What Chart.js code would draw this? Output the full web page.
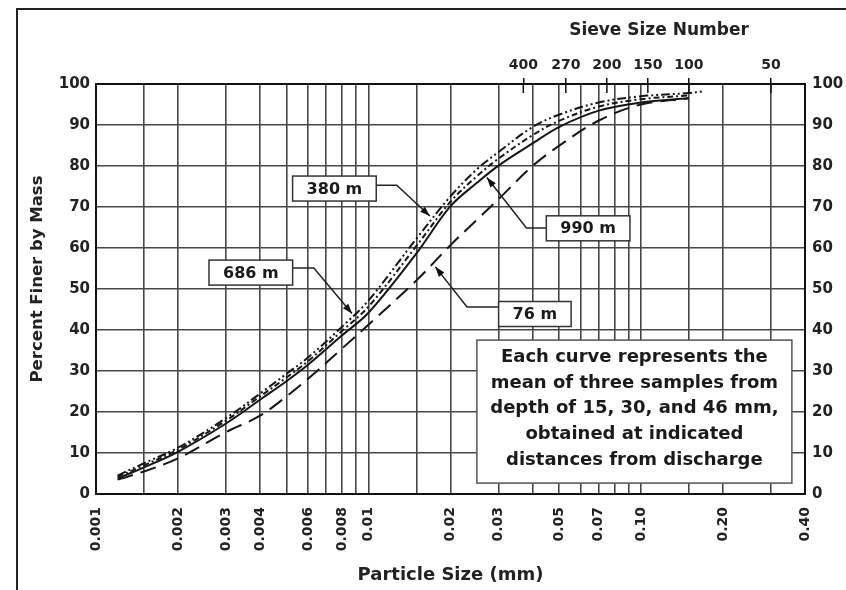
<!DOCTYPE html>
<html>
<head>
<meta charset="utf-8">
<script src="https://cdn.jsdelivr.net/npm/chart.js@4.4.0/dist/chart.umd.min.js"></script>
<style>
  html, body { margin: 0; padding: 0; background: #fff; }
  #wrap { width: 846px; height: 590px; position: relative; }
</style>
</head>
<body>
<div id="wrap"><canvas id="grading" width="846" height="590"></canvas></div>
<script>
// Particle sizes (mm) at which the curves were read
const sizes = [0.0012, 0.0015, 0.002, 0.003, 0.004, 0.005, 0.006, 0.008, 0.01, 0.015, 0.02, 0.025, 0.03, 0.04, 0.05, 0.07, 0.1, 0.15, 0.17];
// Percent finer by mass, one list per distance from discharge
const finer380 = [4.5, 7.5, 11.3, 18.5, 24.5, 29.3, 33.3, 40.8, 47.2, 62.3, 72.6, 79.2, 83.4, 89.5, 92.5, 95.5, 97, 97.8, 98.2];
const finer686 = [4.2, 7, 10.8, 17.9, 23.8, 28.4, 32.4, 39.8, 45.7, 60.5, 71.3, 77.5, 81.8, 87.5, 91, 94.5, 96.3, 97.2, null];
const finer990 = [3.8, 6.5, 10.3, 17.2, 23, 27.5, 31.5, 38.7, 44.2, 58.7, 70.2, 75.9, 80.1, 85.5, 89.5, 93.5, 95.5, 96.5, null];
const finer76  = [3.5, 5.5, 8.7, 15.1, 19.1, 23.8, 28.1, 35.5, 41.3, 52.1, 60.7, 66.9, 71.9, 80, 84.9, 91.1, 95, 96.5, null];

// Bottom axis: grid lines and the ones that carry a label
const gridSizes = [0.001, 0.0015, 0.002, 0.003, 0.004, 0.005, 0.006, 0.007, 0.008, 0.009, 0.01, 0.015, 0.02, 0.03, 0.04, 0.05, 0.06, 0.07, 0.08, 0.09, 0.1, 0.15, 0.2, 0.3, 0.4];
const labelSizes = [0.001, 0.002, 0.003, 0.004, 0.006, 0.008, 0.01, 0.02, 0.03, 0.05, 0.07, 0.1, 0.2, 0.4];
const labelTexts = ['0.001', '0.002', '0.003', '0.004', '0.006', '0.008', '0.01', '0.02', '0.03', '0.05', '0.07', '0.10', '0.20', '0.40'];

// Top axis: sieve openings (mm) and sieve numbers
const sieveSizes = [0.037, 0.053, 0.075, 0.106, 0.15, 0.3];
const sieveNumbers = ['400', '270', '200', '150', '100', '50'];

// Callouts, placed in data units (mm, %)
const callouts = [
  { text: '380 m', box: [0.0075, 74.5], elbow: [0.0127, 75.3], tip: [0.0168, 67.8] },
  { text: '686 m', box: [0.0037, 54], elbow: [0.0063, 55.1], tip: [0.0087, 44] },
  { text: '990 m', box: [0.064, 64.8], elbow: [0.038, 64.9], tip: [0.0272, 77.2] },
  { text: '76 m', box: [0.0408, 43.9], elbow: [0.023, 45.6], tip: [0.0176, 55.4] }
];
const noteLines = ['Each curve represents the', 'mean of three samples from', 'depth of 15, 30, and 46 mm,', 'obtained at indicated', 'distances from discharge'];
const noteAt = [0.0946, 20.1];

const FONT = "'DejaVu Sans', 'Liberation Sans', sans-serif";
Chart.defaults.font.family = FONT;
Chart.defaults.color = '#222';

const toPoints = vals => sizes.map((s, i) => ({ x: s, y: vals[i] })).filter(p => p.y !== null);

function curve(label, vals, dash) {
    return {
        label: label,
        data: toPoints(vals),
        borderColor: '#161616',
        borderWidth: 2,
        borderDash: dash,
        pointRadius: 0,
        fill: false,
        tension: 0.35
    };
}

const callPlugin = {
    id: 'callPlugin',
    beforeDraw(chart) {
        const c = chart.ctx;
        c.save();
        c.fillStyle = '#fff';
        c.fillRect(0, 0, chart.width, chart.height);
        // outer frame (left and top only, the rest is cropped)
        c.strokeStyle = '#222';
        c.lineWidth = 2;
        c.beginPath();
        c.moveTo(17, chart.height);
        c.lineTo(17, 9);
        c.lineTo(chart.width, 9);
        c.stroke();
        c.restore();
    },
    afterDatasetsDraw(chart) {
        const c = chart.ctx;
        const xs = chart.scales.x, ys = chart.scales.y, xt = chart.scales.xTop;
        const px = v => xs.getPixelForValue(v);
        const py = v => ys.getPixelForValue(v);
        const top = chart.chartArea.top;
        c.save();

        // sieve ticks also reach into the plot
        c.strokeStyle = '#111';
        c.lineWidth = 1.5;
        sieveSizes.forEach(s => {
            const x = xt.getPixelForValue(s);
            c.beginPath();
            c.moveTo(x, top);
            c.lineTo(x, top + 9);
            c.stroke();
        });

        // labelled arrows
        c.font = 'bold 16px ' + FONT;
        c.textAlign = 'center';
        c.textBaseline = 'middle';
        callouts.forEach(co => {
            const bx = px(co.box[0]), by = py(co.box[1]);
            const w = c.measureText(co.text).width + 28, h = 25;
            const ex = px(co.elbow[0]), ey = py(co.elbow[1]);
            const tx = px(co.tip[0]), ty = py(co.tip[1]);
            const sx = ex > bx ? bx + w / 2 : bx - w / 2;

            c.strokeStyle = '#222';
            c.lineWidth = 1.5;
            c.beginPath();
            c.moveTo(sx, ey);
            c.lineTo(ex, ey);
            c.lineTo(tx, ty);
            c.stroke();

            const a = Math.atan2(ty - ey, tx - ex);
            const L = 10, W = 3.5;
            c.fillStyle = '#111';
            c.beginPath();
            c.moveTo(tx, ty);
            c.lineTo(tx - L * Math.cos(a) + W * Math.sin(a), ty - L * Math.sin(a) - W * Math.cos(a));
            c.lineTo(tx - L * Math.cos(a) - W * Math.sin(a), ty - L * Math.sin(a) + W * Math.cos(a));
            c.closePath();
            c.fill();

            c.fillStyle = '#fff';
            c.fillRect(bx - w / 2, by - h / 2, w, h);
            c.strokeStyle = '#333';
            c.strokeRect(bx - w / 2, by - h / 2, w, h);
            c.fillStyle = '#1a1a1a';
            c.fillText(co.text, bx, by + 1);
        });

        // note box
        const nx = px(noteAt[0]), ny = py(noteAt[1]);
        const nw = 315, nh = 143, lh = 25.7;
        c.fillStyle = '#fff';
        c.fillRect(nx - nw / 2, ny - nh / 2, nw, nh);
        c.strokeStyle = '#555';
        c.lineWidth = 1.5;
        c.strokeRect(nx - nw / 2, ny - nh / 2, nw, nh);
        c.fillStyle = '#1a1a1a';
        c.font = 'bold 18px ' + FONT;
        noteLines.forEach((t, i) => {
            c.fillText(t, nx, ny - 3 + (i - 2) * lh);
        });
        c.restore();
    },
    afterDraw(chart) {
        const c = chart.ctx;
        c.save();
        c.fillStyle = '#222';
        c.textAlign = 'center';
        c.textBaseline = 'middle';
        c.font = 'bold 17px ' + FONT;
        c.fillText('Sieve Size Number', 659, 31);
        c.translate(38, 279);
        c.rotate(-Math.PI / 2);
        c.font = 'bold 16.5px ' + FONT;
        c.fillText('Percent Finer by Mass', 0, 0);
        c.restore();
    }
};

const gridColor = '#474747';
const frame = { color: '#111', width: 2 };

new Chart(document.getElementById('grading'), {
    type: 'line',
    data: {
        datasets: [
            curve('380 m', finer380, [9, 3, 2, 3, 2, 3]),
            curve('686 m', finer686, [6, 3, 2, 3]),
            curve('990 m', finer990, []),
            curve('76 m', finer76, [16, 8])
        ]
    },
    options: {
        responsive: false,
        animation: false,
        layout: { padding: 0 },
        plugins: {
            legend: { display: false },
            tooltip: { enabled: false }
        },
        scales: {
            x: {
                type: 'logarithmic',
                position: 'bottom',
                min: 0.001,
                max: 0.4,
                afterBuildTicks: s => { s.ticks = gridSizes.map(v => ({ value: v })); },
                afterFit: s => { s.height = 96; },
                ticks: {
                    autoSkip: false,
                    minRotation: 90,
                    maxRotation: 90,
                    padding: 13,
                    font: { size: 14, weight: 'bold' },
                    callback: v => {
                        const i = labelSizes.findIndex(l => Math.abs(l - v) < l * 1e-6);
                        return i >= 0 ? labelTexts[i] : '';
                    }
                },
                grid: { color: gridColor, lineWidth: 1.6, drawTicks: false },
                border: frame,
                title: {
                    display: true,
                    text: 'Particle Size (mm)',
                    font: { size: 18, weight: 'bold' },
                    padding: { top: 0, bottom: 4 }
                }
            },
            xTop: {
                type: 'logarithmic',
                position: 'top',
                min: 0.001,
                max: 0.4,
                afterBuildTicks: s => { s.ticks = sieveSizes.map(v => ({ value: v })); },
                afterFit: s => { s.height = 84; },
                ticks: {
                    autoSkip: false,
                    maxRotation: 0,
                    padding: 4,
                    font: { size: 14, weight: 'bold' },
                    callback: (v, i) => sieveNumbers[i]
                },
                grid: { drawOnChartArea: false, tickLength: 6, color: '#111', lineWidth: 1.5 },
                border: frame
            },
            y: {
                position: 'left',
                min: 0,
                max: 100,
                afterFit: s => { s.width = 96; },
                ticks: { stepSize: 10, padding: 6, font: { size: 15, weight: 'bold' } },
                grid: { color: gridColor, lineWidth: 1.6, drawTicks: false },
                border: frame
            },
            y2: {
                position: 'right',
                min: 0,
                max: 100,
                afterFit: s => { s.width = 41; },
                ticks: { stepSize: 10, padding: 7, font: { size: 15, weight: 'bold' } },
                grid: { drawOnChartArea: false, drawTicks: false },
                border: frame
            }
        }
    },
    plugins: [callPlugin]
});
</script>
</body>
</html>
